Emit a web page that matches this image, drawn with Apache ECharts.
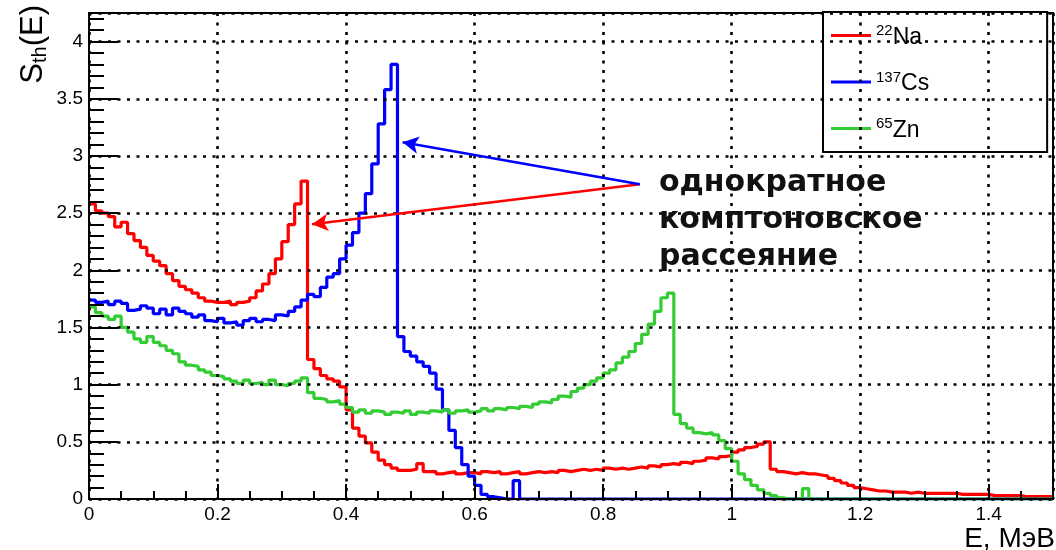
<!DOCTYPE html>
<html>
<head>
<meta charset="utf-8">
<script src="https://cdn.jsdelivr.net/npm/echarts@6/dist/echarts.min.js"></script>
<style>
  html, body { margin: 0; padding: 0; background: #fff; }
  #chart { width: 1056px; height: 550px; }
</style>
</head>
<body>
<div id="chart"></div>
<script>
// ---- data (histograms, bin width 0.01 MeV, starting at 0) ----
const binWidth = 0.01;
const xTicks = [0, 0.2, 0.4, 0.6, 0.8, 1, 1.2, 1.4];
const yTicks = [0, 0.5, 1, 1.5, 2, 2.5, 3, 3.5, 4];

const seriesNames = ['Na22', 'Cs137', 'Zn65'];
const massNumbers = ['22', '137', '65'];
const elements = ['Na', 'Cs', 'Zn'];

const naValues = [
  2.58, 2.52, 2.50, 2.47, 2.38, 2.42, 2.32, 2.26, 2.20, 2.13,
  2.08, 2.04, 1.97, 1.91, 1.86, 1.83, 1.80, 1.76, 1.73, 1.72,
  1.72, 1.73, 1.70, 1.72, 1.73, 1.76, 1.82, 1.88, 1.97, 2.10,
  2.25, 2.40, 2.58, 2.78, 1.22, 1.14, 1.08, 1.05, 1.03, 0.98,
  0.78, 0.62, 0.55, 0.49, 0.41, 0.34, 0.30, 0.27, 0.25, 0.25,
  0.26, 0.31, 0.24, 0.24, 0.22, 0.23, 0.24, 0.22, 0.23, 0.23,
  0.22, 0.24, 0.23, 0.24, 0.22, 0.23, 0.24, 0.22, 0.23, 0.24,
  0.23, 0.24, 0.23, 0.25, 0.24, 0.25, 0.26, 0.25, 0.26, 0.25,
  0.27, 0.26, 0.27, 0.26, 0.27, 0.28, 0.27, 0.29, 0.28, 0.30,
  0.31, 0.30, 0.32, 0.31, 0.33, 0.34, 0.36, 0.35, 0.37, 0.38,
  0.41, 0.43, 0.45, 0.46, 0.48, 0.50, 0.26, 0.24, 0.23, 0.22,
  0.23, 0.22, 0.22, 0.21, 0.20, 0.18, 0.16, 0.14, 0.12, 0.10,
  0.09, 0.08, 0.07, 0.07, 0.06, 0.06, 0.06, 0.05, 0.06, 0.05,
  0.05, 0.05, 0.05, 0.05, 0.05, 0.04, 0.04, 0.04, 0.04, 0.04,
  0.03, 0.03, 0.03, 0.03, 0.03, 0.02, 0.02, 0.02, 0.02, 0.02
];

const csValues = [
  1.74, 1.72, 1.73, 1.70, 1.73, 1.71, 1.65, 1.66, 1.69, 1.67,
  1.62, 1.66, 1.61, 1.67, 1.64, 1.62, 1.59, 1.61, 1.56, 1.55,
  1.58, 1.54, 1.55, 1.52, 1.56, 1.58, 1.55, 1.57, 1.56, 1.61,
  1.60, 1.64, 1.68, 1.74, 1.79, 1.77, 1.85, 1.94, 1.97, 2.10,
  2.22, 2.33, 2.50, 2.67, 2.93, 3.28, 3.58, 3.80, 1.42, 1.29,
  1.25, 1.20, 1.16, 1.10, 0.96, 0.78, 0.60, 0.45, 0.30, 0.20,
  0.12, 0.04, 0.02, 0.01, 0, 0, 0.16, 0, 0, 0,
  0, 0, 0, 0, 0, 0, 0, 0, 0, 0,
  0, 0, 0, 0, 0, 0, 0, 0, 0, 0,
  0, 0, 0, 0, 0, 0, 0, 0, 0, 0,
  0, 0, 0, 0, 0, 0, 0, 0, 0, 0,
  0, 0, 0, 0, 0, 0, 0, 0, 0, 0,
  0, 0, 0, 0, 0, 0, 0, 0, 0, 0,
  0, 0, 0, 0, 0, 0, 0, 0, 0, 0,
  0, 0, 0, 0, 0, 0, 0, 0, 0, 0
];

const znValues = [
  1.68, 1.63, 1.60, 1.57, 1.60, 1.50, 1.46, 1.40, 1.37, 1.42,
  1.37, 1.34, 1.30, 1.27, 1.20, 1.17, 1.16, 1.13, 1.11, 1.08,
  1.07, 1.05, 1.03, 1.01, 1.04, 1.01, 1.02, 1.00, 1.04, 1.00,
  0.99, 1.01, 1.03, 1.06, 0.93, 0.88, 0.87, 0.85, 0.86, 0.83,
  0.80, 0.76, 0.78, 0.75, 0.77, 0.76, 0.74, 0.76, 0.75, 0.77,
  0.74, 0.76, 0.75, 0.77, 0.76, 0.78, 0.75, 0.77, 0.78, 0.76,
  0.77, 0.79, 0.77, 0.79, 0.78, 0.80, 0.79, 0.81, 0.80, 0.83,
  0.85, 0.84, 0.87, 0.90, 0.89, 0.94, 0.97, 1.00, 1.03, 1.06,
  1.10, 1.13, 1.19, 1.24, 1.29, 1.36, 1.44, 1.53, 1.64, 1.76,
  1.80, 0.74, 0.66, 0.62, 0.58, 0.57, 0.58, 0.56, 0.51, 0.44,
  0.33, 0.22, 0.17, 0.12, 0.08, 0.05, 0.03, 0.01, 0, 0,
  0, 0.09, 0, 0, 0, 0, 0, 0, 0, 0,
  0, 0, 0, 0, 0, 0, 0, 0, 0, 0,
  0, 0, 0, 0, 0, 0, 0, 0, 0, 0,
  0, 0, 0, 0, 0, 0, 0, 0, 0, 0
];

// annotation arrows (data coordinates): common origin, two tips
const arrowOrigin = [0.857, 2.752];
const arrowTipNa = [0.347, 2.402];
const arrowTipCs = [0.488, 3.119];
const annotationText = 'однократное\nкомптоновское\nрассеяние';

const colors = ['#ff0000', '#0000ff', '#33cc33'];

// ---- build ----
function toSteps(vals) {
  const pts = vals.map((v, i) => [+(i * binWidth).toFixed(4), v]);
  pts.push([+(vals.length * binWidth).toFixed(4), vals[vals.length - 1]]);
  return pts;
}

const FONT = 'Liberation Sans, Arial, Helvetica, sans-serif';
const chart = echarts.init(document.getElementById('chart'), null, { renderer: 'canvas' });

const dotted = { color: '#000', width: 2.6, type: [3, 6.5] };
const tickStyle = { color: '#000', width: 2, opacity: 1 };

function arrow(tip, color) {
  return [
    { coord: arrowOrigin, symbol: 'none', lineStyle: { color: color, width: 2.5, type: 'solid' } },
    { coord: tip, symbol: 'arrow', itemStyle: { color: color } }
  ];
}

const allValues = [naValues, csValues, znValues];

const option = {
  animation: false,
  backgroundColor: '#fff',
  grid: {
    left: 89, right: 3, top: 13, bottom: 51,
    show: true, borderColor: '#000', borderWidth: 2, backgroundColor: 'transparent'
  },
  xAxis: [
    {
      type: 'value', min: 0, max: 1.5, interval: 0.2, position: 'bottom',
      axisLine: { show: true, onZero: false, lineStyle: { color: '#000', width: 2 } },
      axisTick: { show: true, inside: true, interval: 0, length: 15, lineStyle: tickStyle },
      axisLabel: {
        color: '#000', fontFamily: FONT, fontSize: 19, margin: 6, showMaxLabel: false,
        formatter: v => (xTicks.some(t => Math.abs(t - v) < 1e-6) ? String(+v.toFixed(2)) : '')
      },
      splitLine: { show: true, lineStyle: dotted },
      z: 5
    },
    {
      type: 'value', min: 0, max: 1.5, interval: 0.05, position: 'bottom',
      axisLine: { show: false, onZero: false },
      axisTick: { show: true, inside: true, interval: 0, length: 8, lineStyle: tickStyle },
      axisLabel: { show: false },
      splitLine: { show: false },
      z: 5
    }
  ],
  yAxis: [
    {
      type: 'value', min: 0, max: 4.25, interval: 0.5, position: 'left',
      axisLine: { show: true, onZero: false, lineStyle: { color: '#000', width: 2 } },
      axisTick: { show: true, inside: true, interval: 0, length: 29, lineStyle: tickStyle },
      axisLabel: {
        color: '#000', fontFamily: FONT, fontSize: 19, margin: 6, showMaxLabel: false,
        formatter: v => (yTicks.some(t => Math.abs(t - v) < 1e-6) ? String(+v.toFixed(2)) : '')
      },
      splitLine: { show: true, lineStyle: dotted },
      z: 5
    },
    {
      type: 'value', min: 0, max: 4.25, interval: 0.1, position: 'left',
      axisLine: { show: false, onZero: false },
      axisTick: { show: true, inside: true, interval: 0, length: 15, lineStyle: tickStyle },
      axisLabel: { show: false },
      splitLine: { show: false },
      z: 5
    }
  ],
  legend: {
    orient: 'vertical',
    left: 823, top: 12,
    padding: [10, 118, 10, 8],
    itemGap: 19.5,
    icon: 'rect',
    itemWidth: 40, itemHeight: 3,
    borderColor: '#000', borderWidth: 2, borderRadius: 0,
    backgroundColor: '#fff',
    data: seriesNames,
    formatter: name => {
      const i = seriesNames.indexOf(name);
      return '{sup|' + massNumbers[i] + '}{el|' + elements[i] + '}';
    },
    textStyle: {
      color: '#000', fontFamily: FONT, fontSize: 23,
      rich: {
        sup: { fontFamily: FONT, fontSize: 15, lineHeight: 16, verticalAlign: 'top', color: '#000' },
        el: { fontFamily: FONT, fontSize: 23, lineHeight: 24, color: '#000', padding: [4, 0, 0, 0] }
      }
    }
  },
  series: seriesNames.map((name, i) => {
    const s = {
      name: name,
      type: 'line',
      step: 'end',
      symbol: 'none',
      showSymbol: false,
      xAxisIndex: 0, yAxisIndex: 0,
      data: toSteps(allValues[i]),
      lineStyle: { color: colors[i], width: 3.2 },
      itemStyle: { color: colors[i] },
      emphasis: { disabled: true },
      z: 2 + i
    };
    if (i === 2) {
      s.markLine = {
        silent: true,
        symbol: ['none', 'arrow'],
        symbolSize: [13, 16],
        label: { show: false },
        emphasis: { disabled: true },
        animation: false,
        data: [arrow(arrowTipNa, colors[0]), arrow(arrowTipCs, colors[1])]
      };
    }
    return s;
  }),
  graphic: [
    {
      type: 'text', x: 33, y: 5, rotation: Math.PI / 2, z: 10,
      style: {
        text: '{a|S}{b|th}{a|(E)}',
        align: 'right', verticalAlign: 'middle',
        fill: '#000',
        rich: {
          a: { fontFamily: FONT, fontSize: 31, lineHeight: 34, fill: '#000' },
          b: { fontFamily: FONT, fontSize: 20, lineHeight: 20, verticalAlign: 'bottom', fill: '#000' }
        }
      }
    },
    {
      type: 'text', x: 1055, y: 553, z: 10,
      style: {
        text: 'E, МэВ', font: '28px ' + FONT,
        align: 'right', verticalAlign: 'bottom', fill: '#000'
      }
    },
    {
      type: 'text', x: 659, y: 220, z: 10,
      style: {
        text: annotationText,
        fontFamily: 'DejaVu Sans', fontWeight: 'bold', fontSize: 30, lineHeight: 37,
        align: 'left', verticalAlign: 'middle', fill: '#111'
      }
    }
  ]
};

chart.setOption(option);
</script>
</body>
</html>
